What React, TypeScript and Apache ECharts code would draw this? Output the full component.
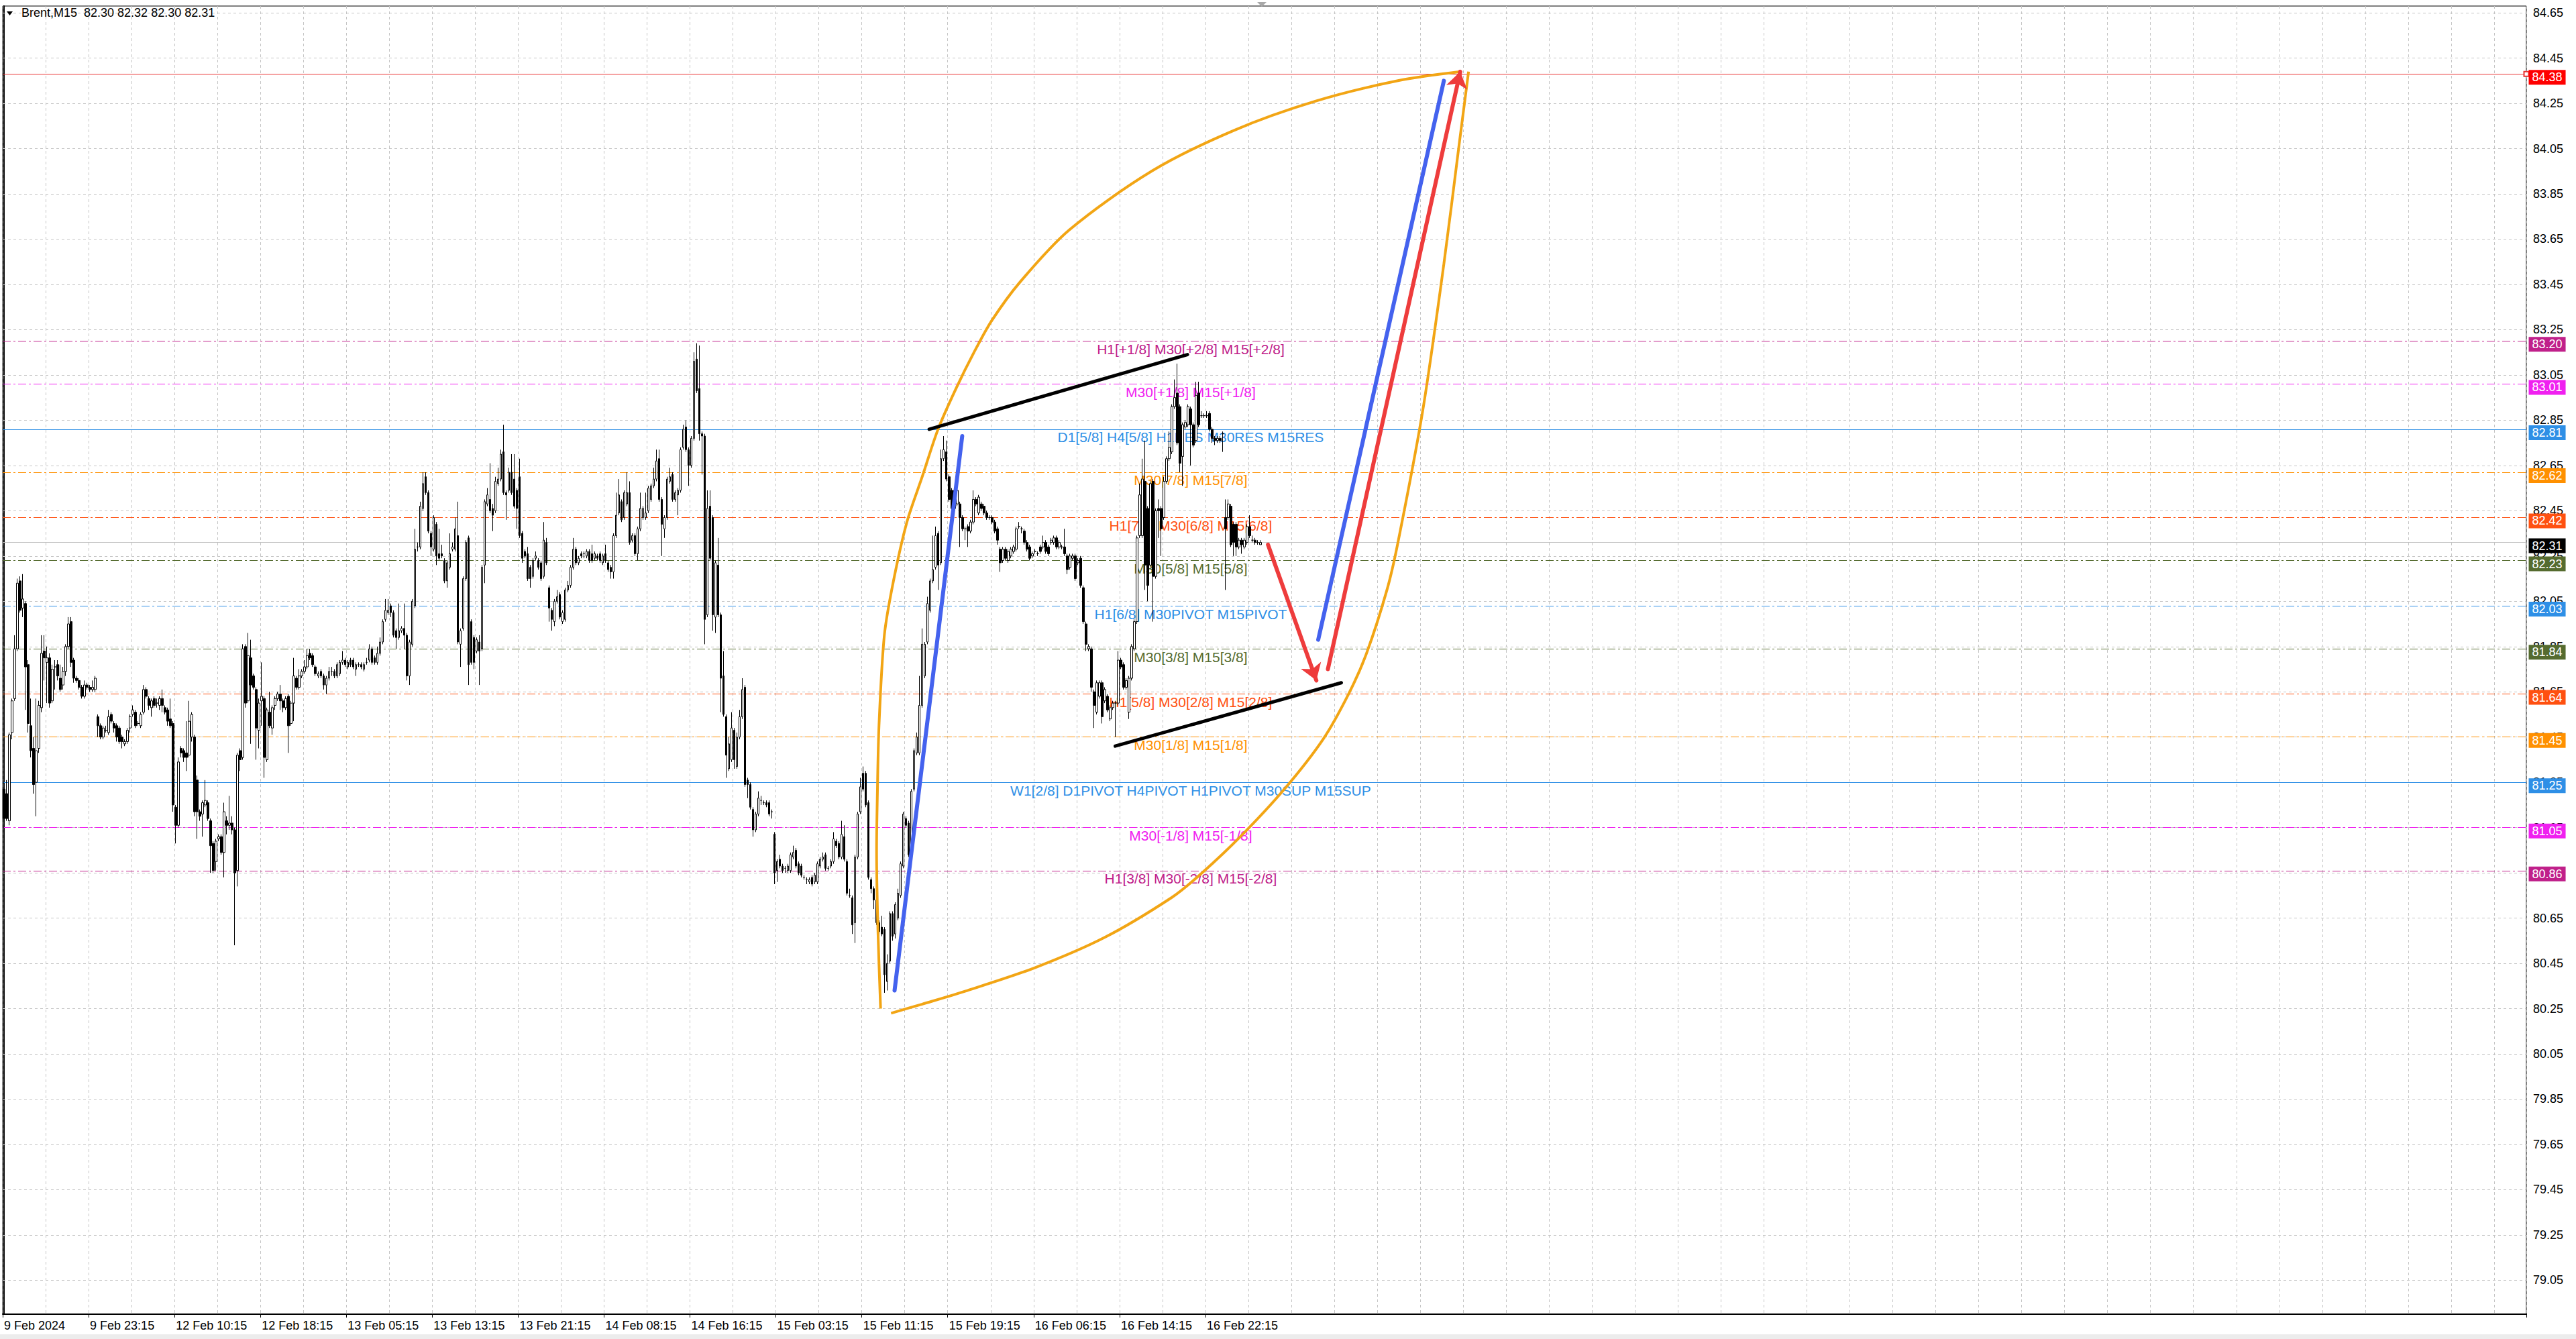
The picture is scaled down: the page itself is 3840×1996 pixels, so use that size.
import React, { useEffect, useRef } from "react";
import * as echarts from "echarts";

const W = 3840;
const H = 1996;
const FONT = "Liberation Sans";
const TOTAL_BARS = 940;
const LABEL_STEP = 32;
const GRID_STEP = 16;

const headerText = "Brent,M15  82.30 82.32 82.30 82.31";

const xTickLabels = [
  "9 Feb 2024", "9 Feb 23:15", "12 Feb 10:15", "12 Feb 18:15", "13 Feb 05:15",
  "13 Feb 13:15", "13 Feb 21:15", "14 Feb 08:15", "14 Feb 16:15", "15 Feb 03:15",
  "15 Feb 11:15", "15 Feb 19:15", "16 Feb 06:15", "16 Feb 14:15", "16 Feb 22:15",
];

const yTicks = [
  79.05, 79.25, 79.45, 79.65, 79.85, 80.05, 80.25, 80.45, 80.65, 80.85,
  81.05, 81.25, 81.45, 81.65, 81.85, 82.05, 82.25, 82.45, 82.65, 82.85,
  83.05, 83.25, 83.45, 83.65, 83.85, 84.05, 84.25, 84.45, 84.65,
];

// [open, close, low, high] per M15 bar
const ohlc = [
  [81.22,81.09,81.04,81.25],[81.20,81.09,81.08,81.26],[81.08,81.46,81.06,81.47],[81.47,81.61,81.44,81.62],[81.62,81.84,81.61,81.90],
  [81.84,82.13,81.83,82.15],[82.14,82.01,82.00,82.16],[82.02,82.06,81.98,82.17],[82.04,81.76,81.57,82.05],[81.77,81.51,81.47,81.79],
  [81.50,81.39,81.36,81.62],[81.40,81.24,81.20,81.45],[81.25,81.39,81.10,81.62],[81.40,81.59,81.38,81.61],[81.58,81.82,81.56,81.90],
  [81.83,81.80,81.70,81.90],[81.78,81.80,81.60,81.85],[81.80,81.60,81.58,81.82],[81.61,81.75,81.60,81.77],[81.76,81.76,81.66,81.79],
  [81.77,81.72,81.70,81.79],[81.71,81.66,81.65,81.77],[81.68,81.74,81.66,81.76],[81.74,81.85,81.72,81.86],[81.85,81.95,81.84,81.98],
  [81.96,81.78,81.76,81.98],[81.79,81.71,81.69,81.80],[81.71,81.70,81.69,81.72],[81.70,81.67,81.66,81.71],[81.67,81.63,81.62,81.68],
  [81.63,81.68,81.62,81.70],[81.68,81.67,81.66,81.69],[81.67,81.66,81.65,81.68],[81.66,81.67,81.65,81.70],[81.66,81.71,81.65,81.72],
  [81.54,81.50,81.45,81.55],[81.50,81.45,81.44,81.51],[81.45,81.49,81.44,81.50],[81.48,81.48,81.47,81.50],[81.47,81.54,81.46,81.57],
  [81.55,81.52,81.51,81.56],[81.51,81.49,81.47,81.52],[81.50,81.45,81.43,81.51],[81.49,81.43,81.42,81.50],[81.45,81.43,81.40,81.46],
  [81.42,81.43,81.41,81.44],[81.43,81.48,81.42,81.49],[81.49,81.54,81.47,81.55],[81.55,81.57,81.54,81.59],[81.56,81.50,81.49,81.57],
  [81.51,81.51,81.50,81.52],[81.50,81.55,81.49,81.56],[81.56,81.66,81.55,81.68],[81.66,81.63,81.62,81.67],[81.62,81.59,81.57,81.63],
  [81.58,81.61,81.54,81.62],[81.62,81.59,81.58,81.63],[81.60,81.60,81.58,81.62],[81.59,81.62,81.57,81.63],[81.62,81.59,81.56,81.66],
  [81.58,81.56,81.55,81.59],[81.57,81.52,81.50,81.58],[81.53,81.50,81.49,81.62],[81.51,81.15,81.12,81.52],[81.14,81.06,80.98,81.15],
  [81.06,81.34,81.05,81.36],[81.40,81.38,81.36,81.41],[81.39,81.36,81.34,81.40],[81.38,81.36,81.30,81.52],[81.37,81.52,81.36,81.61],
  [81.45,81.55,81.43,81.56],[81.45,81.12,81.10,81.46],[81.26,81.12,81.00,81.28],[81.12,81.10,81.08,81.13],[81.11,81.16,81.01,81.17],
  [81.15,81.17,81.14,81.26],[81.16,81.09,81.08,81.17],[81.08,80.97,80.85,81.09],[80.98,80.86,80.85,80.99],[80.90,80.99,80.86,81.00],
  [81.00,81.01,80.99,81.02],[81.01,80.94,80.93,81.02],[80.94,81.12,80.83,81.16],[81.08,81.06,81.02,81.10],[81.06,81.07,81.04,81.19],
  [81.07,81.04,81.02,81.10],[81.04,80.85,80.53,81.05],[80.86,81.37,80.79,81.38],[81.39,81.35,81.30,81.40],[81.36,81.84,81.35,81.86],
  [81.85,81.60,81.58,81.86],[81.61,81.81,81.60,81.91],[81.80,81.68,81.42,81.88],[81.72,81.67,81.66,81.73],[81.66,81.49,81.35,81.67],
  [81.48,81.60,81.40,81.62],[81.61,81.63,81.50,81.78],[81.62,81.36,81.27,81.63],[81.35,81.57,81.34,81.58],[81.56,81.50,81.49,81.65],
  [81.49,81.58,81.46,81.59],[81.59,81.62,81.57,81.63],[81.62,81.64,81.61,81.65],[81.64,81.61,81.57,81.68],[81.61,81.58,81.56,81.62],
  [81.58,81.62,81.57,81.63],[81.63,81.50,81.38,81.64],[81.51,81.60,81.50,81.61],[81.60,81.72,81.52,81.80],[81.71,81.67,81.66,81.72],
  [81.67,81.72,81.66,81.75],[81.72,81.74,81.71,81.75],[81.74,81.76,81.73,81.79],[81.76,81.81,81.75,81.84],[81.82,81.80,81.79,81.84],
  [81.81,81.77,81.76,81.82],[81.76,81.73,81.72,81.77],[81.72,81.73,81.71,81.74],[81.74,81.72,81.71,81.75],[81.72,81.68,81.66,81.73],
  [81.68,81.71,81.64,81.72],[81.71,81.74,81.70,81.76],[81.74,81.74,81.72,81.76],[81.74,81.72,81.71,81.75],[81.72,81.77,81.71,81.78],
  [81.73,81.78,81.72,81.79],[81.78,81.79,81.77,81.83],[81.79,81.77,81.76,81.80],[81.76,81.78,81.75,81.79],[81.79,81.77,81.76,81.80],
  [81.79,81.76,81.75,81.80],[81.75,81.77,81.72,81.78],[81.77,81.77,81.76,81.78],[81.77,81.76,81.75,81.78],[81.75,81.77,81.74,81.78],
  [81.78,81.78,81.77,81.80],[81.79,81.84,81.78,81.86],[81.84,81.78,81.77,81.85],[81.80,81.78,81.77,81.81],[81.78,81.82,81.77,81.85],
  [81.82,81.87,81.81,81.89],[81.87,81.96,81.86,81.97],[81.97,82.01,81.96,82.06],[82.00,82.01,81.99,82.06],[82.03,82.00,81.98,82.04],
  [82.00,81.90,81.89,82.01],[81.92,81.89,81.84,81.93],[81.89,81.92,81.88,82.04],[81.92,81.93,81.91,81.94],[81.93,81.90,81.84,82.04],
  [81.90,81.72,81.70,81.91],[81.72,81.87,81.68,81.88],[81.86,82.05,81.85,82.06],[82.03,82.28,82.02,82.37],[82.29,82.29,82.27,82.31],
  [82.29,82.47,82.28,82.49],[82.46,82.57,82.45,82.62],[82.60,82.53,82.52,82.62],[82.53,82.36,82.35,82.54],[82.35,82.29,82.25,82.36],
  [82.28,82.42,82.27,82.43],[82.39,82.25,82.21,82.40],[82.26,82.24,82.23,82.37],[82.26,82.25,82.24,82.30],[82.23,82.14,82.13,82.24],
  [82.14,82.22,82.11,82.23],[82.20,82.26,82.19,82.35],[82.28,82.29,82.27,82.31],[82.28,82.37,82.27,82.42],[82.34,81.87,81.86,82.49],
  [81.86,81.92,81.76,81.93],[81.93,82.15,81.92,82.16],[82.15,82.31,82.14,82.32],[82.33,81.77,81.68,82.34],[81.96,81.78,81.77,81.97],
  [81.89,81.78,81.75,81.90],[81.83,81.88,81.82,81.89],[81.87,81.83,81.68,81.90],[81.84,82.20,81.83,82.21],[82.21,82.49,82.13,82.50],
  [82.48,82.52,82.47,82.55],[82.50,82.45,82.44,82.66],[82.46,82.43,82.36,82.48],[82.45,82.58,82.44,82.60],[82.57,82.59,82.56,82.64],
  [82.59,82.70,82.58,82.72],[82.71,82.53,82.52,82.83],[82.53,82.52,82.41,82.54],[82.54,82.62,82.53,82.64],[82.62,82.53,82.52,82.70],
  [82.59,82.47,82.46,82.70],[82.54,82.46,82.37,82.55],[82.60,82.34,82.33,82.68],[82.35,82.24,82.22,82.36],[82.27,82.25,82.24,82.28],
  [82.26,82.15,82.14,82.29],[82.20,82.15,82.11,82.21],[82.16,82.23,82.15,82.24],[82.24,82.25,82.23,82.27],[82.23,82.20,82.19,82.24],
  [82.22,82.15,82.14,82.23],[82.16,82.32,82.15,82.40],[82.31,82.22,82.21,82.33],[82.11,82.02,81.96,82.12],[82.01,81.97,81.92,82.02],
  [81.96,82.05,81.94,82.06],[82.05,82.07,82.04,82.10],[82.08,81.98,81.97,82.09],[81.96,82.00,81.95,82.01],[81.97,82.10,81.96,82.11],
  [82.10,82.12,82.09,82.14],[82.12,82.20,82.11,82.21],[82.20,82.28,82.19,82.33],[82.28,82.22,82.21,82.29],[82.22,82.24,82.21,82.25],
  [82.26,82.25,82.24,82.27],[82.26,82.26,82.24,82.27],[82.25,82.27,82.24,82.28],[82.27,82.23,82.22,82.28],[82.26,82.23,82.22,82.30],
  [82.24,82.26,82.23,82.27],[82.25,82.24,82.23,82.26],[82.26,82.23,82.22,82.27],[82.22,82.25,82.21,82.26],[82.26,82.23,82.22,82.30],
  [82.22,82.19,82.18,82.23],[82.20,82.18,82.15,82.21],[82.18,82.34,82.15,82.35],[82.34,82.43,82.33,82.53],[82.44,82.52,82.43,82.59],
  [82.49,82.41,82.40,82.50],[82.42,82.53,82.41,82.54],[82.48,82.53,82.47,82.62],[82.53,82.31,82.30,82.58],[82.32,82.34,82.31,82.35],
  [82.34,82.26,82.25,82.35],[82.26,82.37,82.23,82.38],[82.37,82.46,82.36,82.53],[82.42,82.46,82.41,82.47],[82.42,82.44,82.41,82.53],
  [82.45,82.55,82.44,82.56],[82.50,82.56,82.49,82.57],[82.56,82.59,82.55,82.64],[82.59,82.67,82.58,82.72],[82.68,82.50,82.49,82.72],
  [82.50,82.39,82.25,82.51],[82.37,82.42,82.33,82.43],[82.42,82.59,82.41,82.60],[82.58,82.60,82.57,82.64],[82.61,82.50,82.49,82.62],
  [82.50,82.53,82.49,82.54],[82.52,82.54,82.43,82.55],[82.54,82.72,82.53,82.73],[82.73,82.81,82.72,82.83],[82.82,82.72,82.71,82.85],
  [82.72,82.65,82.56,82.73],[82.65,82.77,82.64,82.78],[82.77,83.11,82.76,83.15],[83.12,82.98,82.97,83.19],[82.99,82.79,82.76,83.18],
  [82.79,82.78,82.61,82.80],[82.78,81.97,81.86,82.79],[81.99,82.46,81.98,82.54],[82.47,82.24,82.23,82.54],[82.42,81.99,81.92,82.43],
  [81.98,82.22,81.91,82.23],[82.21,81.99,81.98,82.33],[81.99,81.71,81.56,82.00],[81.72,81.55,81.54,81.83],[81.54,81.37,81.27,81.55],
  [81.31,81.42,81.30,81.45],[81.35,81.49,81.34,81.56],[81.48,81.35,81.31,81.49],[81.32,81.45,81.31,81.47],[81.45,81.54,81.44,81.57],
  [81.54,81.66,81.53,81.71],[81.67,81.24,81.23,81.68],[81.26,81.24,81.18,81.27],[81.24,81.14,81.13,81.25],[81.13,81.04,81.01,81.14],
  [81.04,81.11,81.03,81.12],[81.11,81.18,81.10,81.21],[81.17,81.17,81.15,81.19],[81.16,81.16,81.15,81.17],[81.16,81.15,81.14,81.17],
  [81.16,81.11,81.10,81.17],[81.12,81.12,81.09,81.13],[81.02,80.85,80.80,81.03],[80.86,80.90,80.81,80.91],[80.91,80.88,80.87,80.93],
  [80.88,80.86,80.85,80.89],[80.87,80.87,80.85,80.88],[80.86,80.88,80.85,80.89],[80.86,80.93,80.85,80.94],[80.92,80.94,80.91,80.97],
  [80.95,80.88,80.87,80.96],[80.89,80.85,80.84,80.90],[80.88,80.84,80.83,80.89],[80.83,80.83,80.82,80.84],[80.82,80.82,80.80,80.83],
  [80.81,80.82,80.80,80.83],[80.83,80.80,80.79,80.84],[80.81,80.84,80.80,80.85],[80.81,80.89,80.80,80.90],[80.88,80.91,80.87,80.92],
  [80.91,80.92,80.90,80.94],[80.93,80.87,80.86,80.94],[80.87,80.87,80.86,80.88],[80.88,80.90,80.87,80.91],[80.90,81.00,80.89,81.03],
  [80.99,80.97,80.96,81.00],[80.98,80.92,80.91,80.99],[80.92,81.02,80.91,81.08],[81.01,80.91,80.90,81.06],[80.90,80.76,80.75,80.91],
  [80.75,80.75,80.74,80.78],[80.74,80.62,80.58,80.75],[80.63,80.92,80.54,80.93],[80.92,81.11,80.91,81.12],[81.12,81.23,81.11,81.27],
  [81.29,81.22,81.21,81.32],[81.29,81.15,81.14,81.30],[81.16,80.83,80.82,81.17],[80.82,80.78,80.76,80.83],[80.78,80.73,80.69,80.79],
  [80.73,80.63,80.62,80.74],[80.63,80.59,80.55,80.64],[80.61,80.58,80.57,80.66],[80.60,80.40,80.32,80.61],[80.37,80.45,80.33,80.49],
  [80.46,80.67,80.45,80.68],[80.67,80.57,80.55,80.68],[80.58,80.71,80.56,80.72],[80.65,80.76,80.64,80.78],[80.75,80.89,80.74,80.90],
  [80.88,81.11,80.87,81.12],[81.09,81.06,81.05,81.10],[81.07,80.93,80.92,81.08],[80.95,81.21,80.90,81.22],[81.22,81.39,81.21,81.40],
  [81.38,81.45,81.37,81.47],[81.38,81.59,81.37,81.72],[81.59,81.86,81.58,81.93],[81.72,81.86,81.71,81.87],[81.87,82.04,81.86,82.07],
  [82.01,82.14,82.00,82.15],[82.14,82.19,82.13,82.34],[82.20,82.34,82.19,82.38],[82.35,82.21,82.10,82.36],[82.22,82.68,82.21,82.72],
  [82.68,82.72,82.67,82.78],[82.71,82.59,82.58,82.76],[82.60,82.50,82.49,82.61],[82.54,82.46,82.45,82.55],[82.46,82.54,82.45,82.55],
  [82.48,82.54,82.47,82.55],[82.48,82.42,82.29,82.49],[82.42,82.37,82.36,82.43],[82.37,82.37,82.32,82.38],[82.38,82.36,82.29,82.39],
  [82.36,82.40,82.35,82.41],[82.40,82.50,82.39,82.54],[82.50,82.48,82.47,82.51],[82.44,82.51,82.43,82.52],[82.48,82.46,82.45,82.49],
  [82.47,82.44,82.43,82.48],[82.44,82.42,82.41,82.45],[82.42,82.42,82.41,82.43],[82.42,82.40,82.39,82.43],[82.40,82.36,82.35,82.41],
  [82.37,82.32,82.30,82.38],[82.28,82.22,82.18,82.29],[82.23,82.28,82.22,82.29],[82.28,82.24,82.23,82.29],[82.23,82.27,82.22,82.28],
  [82.25,82.28,82.24,82.29],[82.27,82.29,82.26,82.30],[82.28,82.37,82.27,82.38],[82.38,82.38,82.37,82.40],[82.37,82.37,82.35,82.38],
  [82.36,82.31,82.30,82.37],[82.31,82.28,82.27,82.32],[82.29,82.24,82.23,82.30],[82.25,82.26,82.24,82.27],[82.27,82.27,82.26,82.28],
  [82.26,82.26,82.25,82.27],[82.29,82.27,82.26,82.30],[82.29,82.31,82.28,82.34],[82.31,82.27,82.26,82.32],[82.29,82.26,82.25,82.30],
  [82.31,82.32,82.30,82.33],[82.31,82.33,82.30,82.34],[82.33,82.29,82.28,82.34],[82.29,82.31,82.28,82.32],[82.29,82.29,82.28,82.30],
  [82.29,82.26,82.25,82.37],[82.25,82.19,82.17,82.26],[82.20,82.25,82.19,82.26],[82.24,82.25,82.23,82.26],[82.25,82.15,82.14,82.26],
  [82.22,82.23,82.21,82.24],[82.24,82.12,82.11,82.25],[82.11,81.96,81.95,82.12],[81.95,81.86,81.83,81.96],[81.84,81.85,81.83,81.86],
  [81.84,81.67,81.65,81.85],[81.65,81.59,81.49,81.66],[81.56,81.69,81.55,81.70],[81.63,81.69,81.62,81.70],[81.69,81.54,81.51,81.70],
  [81.61,81.66,81.60,81.67],[81.63,81.57,81.56,81.64],[81.53,81.58,81.52,81.59],[81.58,81.60,81.57,81.61],[81.60,81.60,81.45,81.61],
  [81.60,81.79,81.59,81.83],[81.79,81.76,81.75,81.80],[81.77,81.67,81.66,81.78],[81.67,81.70,81.66,81.71],[81.56,81.71,81.53,81.72],
  [81.71,81.85,81.70,81.86],[81.84,81.96,81.83,81.97],[81.96,82.33,81.95,82.34],[82.34,82.52,82.33,82.57],[82.34,82.59,82.33,82.68],
  [82.58,82.21,82.10,82.76],[82.46,82.12,82.05,82.47],[82.21,82.57,82.20,82.58],[82.58,82.16,81.96,82.59],[82.16,82.45,82.15,82.46],
  [82.46,82.45,82.33,82.50],[82.46,82.37,82.25,82.47],[82.42,82.58,82.41,82.60],[82.58,82.68,82.57,82.69],[82.68,82.73,82.67,82.80],
  [82.71,82.91,82.70,82.92],[82.91,82.95,82.90,83.03],[82.97,82.75,82.74,83.10],[82.91,82.66,82.62,82.92],[82.69,82.83,82.56,82.84],
  [82.82,82.84,82.81,82.85],[82.83,82.91,82.82,82.92],[82.90,82.83,82.65,82.91],[82.83,82.74,82.73,82.84],[82.76,82.96,82.75,83.02],
  [82.97,82.83,82.82,83.02],[82.87,82.87,82.86,82.89],[82.87,82.87,82.86,82.88],[82.87,82.87,82.86,82.89],[82.88,82.81,82.80,82.89],
  [82.81,82.77,82.75,82.82],[82.77,82.76,82.74,82.78],[82.76,82.77,82.75,82.78],[82.77,82.76,82.75,82.78],[82.79,82.79,82.71,82.80],
  [82.42,82.37,82.10,82.50],[82.42,82.48,82.41,82.50],[82.47,82.30,82.29,82.48],[82.39,82.31,82.25,82.40],[82.39,82.29,82.25,82.40],
  [82.29,82.32,82.28,82.33],[82.32,82.30,82.26,82.33],[82.29,82.32,82.28,82.33],[82.31,82.38,82.30,82.39],[82.38,82.34,82.33,82.43],
  [82.32,82.32,82.31,82.34],[82.32,82.31,82.30,82.33],[82.31,82.31,82.30,82.32],[82.30,82.31,82.30,82.32],
];

// Murrey-math style levels
const levelPrices = [83.20, 83.01, 82.81, 82.62, 82.42, 82.23, 82.03, 81.84, 81.64, 81.45, 81.25, 81.05, 80.86];
const levelTexts = [
  "H1[+1/8] M30[+2/8] M15[+2/8]",
  "M30[+1/8] M15[+1/8]",
  "D1[5/8] H4[5/8] H1RES M30RES M15RES",
  "M30[7/8] M15[7/8]",
  "H1[7/8] M30[6/8] M15[6/8]",
  "M30[5/8] M15[5/8]",
  "H1[6/8] M30PIVOT M15PIVOT",
  "M30[3/8] M15[3/8]",
  "H1[5/8] M30[2/8] M15[2/8]",
  "M30[1/8] M15[1/8]",
  "W1[2/8] D1PIVOT H4PIVOT H1PIVOT M30SUP M15SUP",
  "M30[-1/8] M15[-1/8]",
  "H1[3/8] M30[-2/8] M15[-2/8]",
];
const levelColors = [
  "#C0208A", "#F020F0", "#2E8FE6", "#FF9000", "#FF5010", "#556B2F", "#2E8FE6",
  "#556B2F", "#FF5010", "#FF9000", "#2E8FE6", "#F020F0", "#C0208A",
];
const levelSolid = [false, false, true, false, false, false, false, false, false, false, true, false, false];
const levelLabelBar = 442;

const currentPrice = 82.31;
const targetPrice = 84.38;

// drawn objects: [barIndex, price]
const ellipseUpper = [
  [326.5, 80.25], [325.5, 80.6], [325.0, 80.95], [325.3, 81.2], [325.9, 81.5], [327.9, 81.9],
  [331.3, 82.14], [336.3, 82.4], [342.0, 82.6], [347.9, 82.81], [354.6, 82.99], [361.3, 83.15],
  [367.9, 83.29], [378.4, 83.46], [396.7, 83.69], [427.4, 83.95], [458.0, 84.13], [488.6, 84.26],
  [519.2, 84.35], [542.5, 84.39],
];
const ellipseLower = [
  [330.4, 80.23], [342.0, 80.27], [358.8, 80.33], [383.8, 80.43], [410.0, 80.565], [434.8, 80.74],
  [445.3, 80.84], [460.5, 81.01], [476.9, 81.22], [491.3, 81.44], [500.8, 81.64], [507.5, 81.82],
  [515.1, 82.1], [519.2, 82.31], [528.4, 82.89], [536.3, 83.54], [541.9, 84.06], [545.5, 84.39],
];
const blackLines = [
  [[344.6, 82.81], [440.8, 83.14]],
  [[413.9, 81.41], [498.1, 81.69]],
];
const blueLines = [
  [[331.7, 80.33], [356.9, 82.78]],
  [[489.5, 81.88], [536.3, 84.35]],
];
const redArrows = [
  [[470.8, 82.3], [488.8, 81.7]],
  [[493.1, 81.75], [542.4, 84.39]],
];

function buildOption() {
  const categories = Array.from({ length: TOTAL_BARS }, (_, i) => String(i));
  const isLabelBar = (i: number) => i % LABEL_STEP === 0 && i / LABEL_STEP < xTickLabels.length;
  const boxX = TOTAL_BARS + 0.25; // just right of the price axis line

  const levelMarks: any[] = levelPrices.map((p, i) => ({
    yAxis: p,
    lineStyle: { color: levelColors[i], width: 1, type: levelSolid[i] ? "solid" : [12, 4, 3, 4] },
  }));
  levelMarks.push({ yAxis: currentPrice, lineStyle: { color: "#c0c0c0", width: 1, type: "solid" } });

  const boxes = [
    ...levelPrices.map((p, i) => ({ name: p.toFixed(2), value: [boxX, p], label: { backgroundColor: levelColors[i] } })),
    { name: currentPrice.toFixed(2), value: [boxX, currentPrice], label: { backgroundColor: "#000000" } },
    { name: targetPrice.toFixed(2), value: [boxX, targetPrice], label: { backgroundColor: "#FF0000" } },
  ];

  return {
    animation: false,
    backgroundColor: "#ffffff",
    textStyle: { fontFamily: FONT },
    grid: {
      left: 4, right: 74, top: 9, bottom: 37,
      show: true, borderColor: "#000", borderWidth: 1, backgroundColor: "transparent",
    },
    xAxis: [
      {
        type: "category",
        data: categories,
        boundaryGap: true,
        axisLine: { show: true, lineStyle: { color: "#000", width: 2 } },
        axisTick: { show: true, interval: (i: number) => isLabelBar(i), length: 5, lineStyle: { color: "#000" } },
        axisLabel: {
          interval: (i: number) => isLabelBar(i),
          formatter: (_v: string, i: number) => xTickLabels[i / LABEL_STEP] ?? "",
          align: "left",
          color: "#000",
          fontSize: 18,
          fontFamily: FONT,
          margin: 8,
        },
        splitLine: {
          show: true,
          interval: (i: number) => i % GRID_STEP === 0,
          lineStyle: { color: "#c4c4c4", type: [4, 4], width: 1 },
        },
      },
      { type: "value", min: -0.5, max: TOTAL_BARS - 0.5, show: false, splitLine: { show: false } },
    ],
    yAxis: {
      type: "value",
      min: 78.9,
      max: 84.68,
      position: "right",
      axisLine: { show: true, lineStyle: { color: "#000", width: 2 } },
      axisTick: { show: false },
      axisLabel: { show: false },
      splitLine: { show: false },
    },
    graphic: [
      { type: "polygon", shape: { points: [[10, 17], [19, 17], [14.5, 23]] }, style: { fill: "#000" }, z: 100 },
      {
        type: "text", left: 32, top: 10, z: 100,
        style: { text: headerText, fill: "#000", font: `18px "${FONT}"` },
      },
      { type: "polygon", shape: { points: [[1874, 3], [1888, 3], [1881, 10]] }, style: { fill: "#a8a8a8" }, z: 100 },
      { type: "rect", shape: { x: 0, y: 1989, width: W, height: 7 }, style: { fill: "#ececec" }, z: 100 },
    ],
    series: [
      {
        name: "grid",
        type: "line",
        xAxisIndex: 1,
        data: [],
        z: 1,
        silent: true,
        markLine: {
          silent: true,
          z: 1,
          symbol: ["none", "none"],
          lineStyle: { color: "#c4c4c4", type: [4, 4], width: 1 },
          label: {
            show: true,
            position: "end",
            distance: 10,
            formatter: (p: any) => Number(p.value).toFixed(2),
            color: "#000",
            fontSize: 18,
            fontFamily: FONT,
          },
          emphasis: { disabled: true },
          data: yTicks.map((v) => ({ yAxis: v })),
        },
      },
      {
        name: "levels",
        type: "line",
        xAxisIndex: 1,
        data: [],
        z: 2,
        silent: true,
        markLine: {
          silent: true,
          z: 2,
          symbol: ["none", "none"],
          label: { show: false },
          emphasis: { disabled: true },
          data: levelMarks,
        },
      },
      {
        name: "target",
        type: "line",
        xAxisIndex: 1,
        data: [],
        z: 2,
        silent: true,
        markLine: {
          silent: true,
          z: 2,
          symbol: ["none", "emptyRect"],
          symbolSize: 7,
          label: { show: false },
          emphasis: { disabled: true },
          lineStyle: { color: "#E83030", width: 1, type: "solid" },
          data: [{ yAxis: targetPrice }],
        },
      },
      {
        name: "levelText",
        type: "scatter",
        xAxisIndex: 1,
        z: 3,
        silent: true,
        symbolSize: 1,
        itemStyle: { color: "rgba(0,0,0,0)", opacity: 1 },
        label: {
          show: true,
          position: "bottom",
          distance: 1,
          formatter: "{b}",
          fontSize: 21,
          fontFamily: FONT,
        },
        data: levelPrices.map((p, i) => ({
          name: levelTexts[i],
          value: [levelLabelBar, p],
          label: { color: levelColors[i] },
        })),
      },
      {
        name: "Brent",
        type: "candlestick",
        xAxisIndex: 0,
        z: 4,
        silent: true,
        barWidth: 3,
        itemStyle: { color: "#ffffff", color0: "#000000", borderColor: "#000000", borderColor0: "#000000", borderWidth: 1 },
        data: ohlc,
      },
      {
        name: "ellipseUpper",
        type: "line",
        xAxisIndex: 1,
        z: 5,
        silent: true,
        smooth: 0.3,
        symbol: "none",
        lineStyle: { color: "#F2A514", width: 4 },
        data: ellipseUpper,
      },
      {
        name: "ellipseLower",
        type: "line",
        xAxisIndex: 1,
        z: 5,
        silent: true,
        smooth: 0.3,
        symbol: "none",
        lineStyle: { color: "#F2A514", width: 4 },
        data: ellipseLower,
      },
      {
        name: "black",
        type: "lines",
        coordinateSystem: "cartesian2d",
        xAxisIndex: 1,
        yAxisIndex: 0,
        z: 6,
        silent: true,
        symbol: "none",
        lineStyle: { color: "#000", width: 5, opacity: 1, cap: "round" },
        data: blackLines.map((c) => ({ coords: c })),
      },
      {
        name: "blue",
        type: "lines",
        coordinateSystem: "cartesian2d",
        xAxisIndex: 1,
        yAxisIndex: 0,
        z: 6,
        silent: true,
        symbol: "none",
        lineStyle: { color: "#4462EE", width: 6, opacity: 1, cap: "round" },
        data: blueLines.map((c) => ({ coords: c })),
      },
      {
        name: "red",
        type: "lines",
        coordinateSystem: "cartesian2d",
        xAxisIndex: 1,
        yAxisIndex: 0,
        z: 6,
        silent: true,
        symbol: ["none", "arrow"],
        symbolSize: [18, 24],
        lineStyle: { color: "#EE3C3C", width: 6, opacity: 1, cap: "round" },
        data: redArrows.map((c) => ({ coords: c })),
      },
      {
        name: "priceBoxes",
        type: "scatter",
        xAxisIndex: 1,
        z: 8,
        silent: true,
        clip: false,
        symbolSize: 1,
        itemStyle: { color: "rgba(0,0,0,0)", opacity: 1 },
        label: {
          show: true,
          position: "right",
          distance: 0,
          offset: [0, 5],
          formatter: "{b}",
          color: "#fff",
          opacity: 1,
          padding: [2, 5, 1, 5],
          fontSize: 18,
          lineHeight: 19,
          fontFamily: FONT,
        },
        data: boxes,
      },
    ],
  };
}

export default function App() {
  const ref = useRef<HTMLDivElement>(null);
  useEffect(() => {
    if (!ref.current) return;
    const chart = echarts.init(ref.current, undefined, { renderer: "svg", width: W, height: H });
    chart.setOption(buildOption() as any);
    return () => chart.dispose();
  }, []);
  return (
    <div
      ref={ref}
      style={{ position: "absolute", left: 0, top: 0, width: W, height: H, background: "#fff" }}
    />
  );
}
